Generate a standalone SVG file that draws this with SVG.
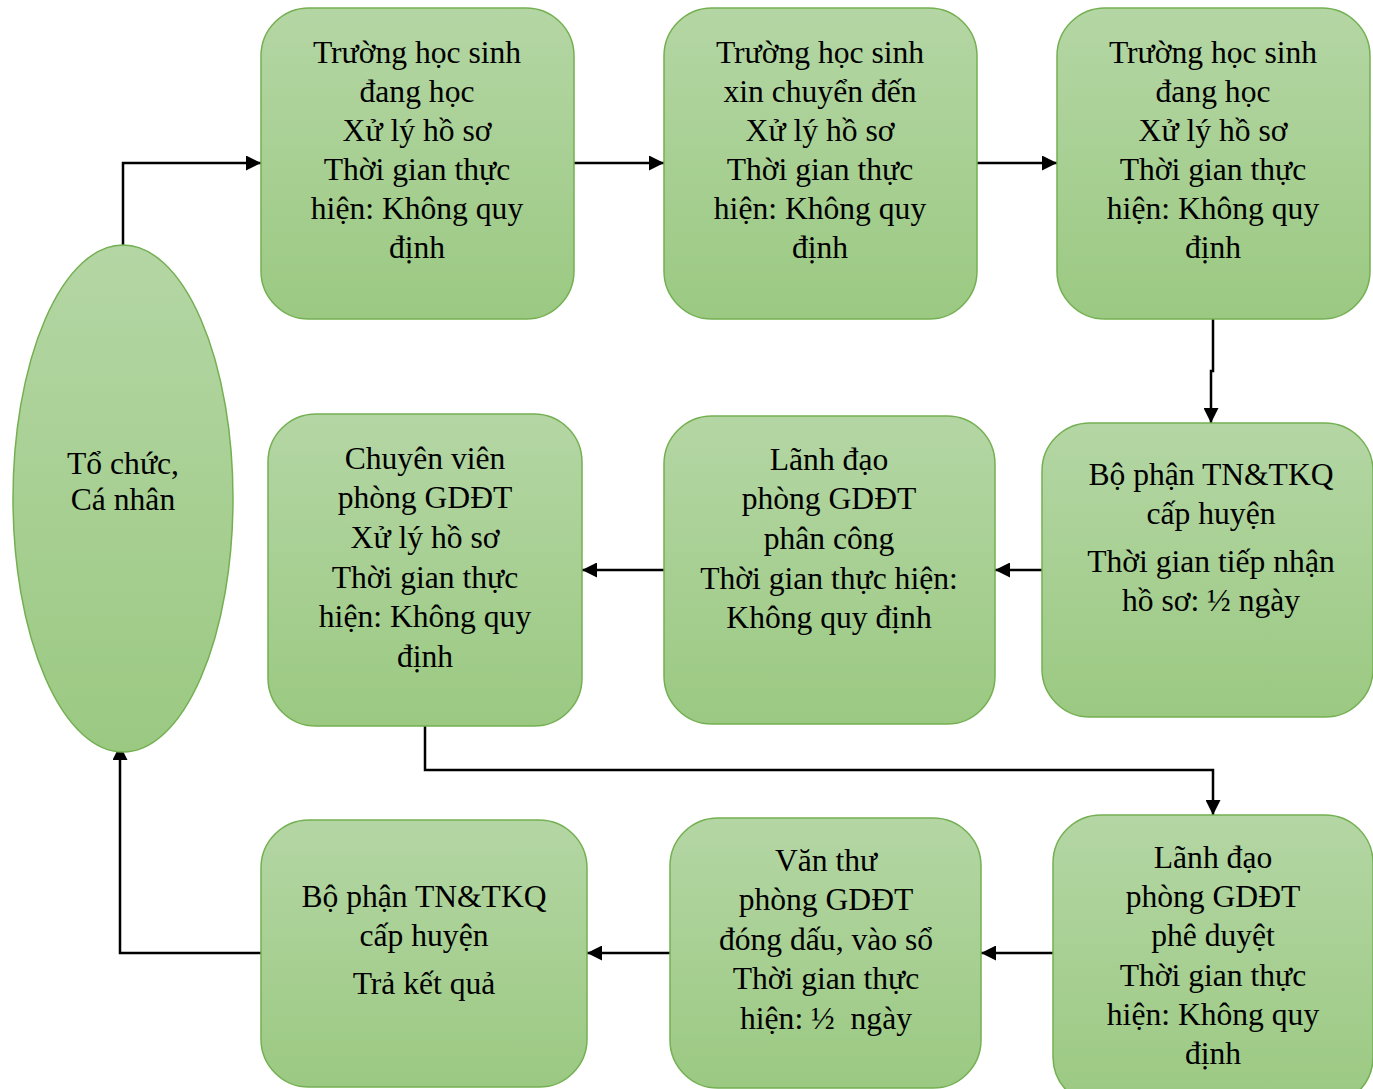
<svg xmlns="http://www.w3.org/2000/svg" width="1373" height="1089" viewBox="0 0 1373 1089">
<style>
.box{fill:url(#g);stroke:#74b052;stroke-width:1.5}
.t{font-family:"Liberation Serif","Times New Roman",serif;font-size:31.6px;fill:#000;text-anchor:middle}
.c{fill:none;stroke:#000;stroke-width:2.5;marker-end:url(#a)}
</style>
<defs>
<linearGradient id="g" x1="0" y1="0" x2="0" y2="1">
<stop offset="0" stop-color="#b4d6a4"/>
<stop offset="1" stop-color="#9bc982"/>
</linearGradient>
<marker id="a" viewBox="0 0 10 10" refX="10" refY="5" markerWidth="15" markerHeight="15" markerUnits="userSpaceOnUse" orient="auto">
<path d="M0,0 L10,5 L0,10 z" fill="#000"/>
</marker>
</defs>
<rect width="1373" height="1089" fill="#fff"/>
<g id="connectors">
<path class="c" d="M123,245 V163 H261"/>
<path class="c" d="M574,163 H664"/>
<path class="c" d="M977,163 H1057"/>
<path class="c" d="M1213,319 V371 H1211 V423"/>
<path class="c" d="M1042,570 H995"/>
<path class="c" d="M664,570 H582"/>
<path class="c" d="M425,726 V770 H1213 V815"/>
<path class="c" d="M1053,953 H981"/>
<path class="c" d="M670,953 H587"/>
<path class="c" d="M261,953 H120 V745"/>
</g>
<g id="n0">
<ellipse class="box" cx="123" cy="498.5" rx="110" ry="253.5"/>
<text class="t" x="123" y="474">Tổ chức,</text>
<text class="t" x="123" y="510">Cá nhân</text>
</g>
<g id="n1">
<rect class="box" x="261" y="8" width="313" height="311" rx="48"/>
<text class="t" x="417" y="63">Trường học sinh</text>
<text class="t" x="417" y="102">đang học</text>
<text class="t" x="417" y="141">Xử lý hồ sơ</text>
<text class="t" x="417" y="180">Thời gian thực</text>
<text class="t" x="417" y="219">hiện: Không quy</text>
<text class="t" x="417" y="258">định</text>
</g>
<g id="n2">
<rect class="box" x="664" y="8" width="313" height="311" rx="48"/>
<text class="t" x="820" y="63">Trường học sinh</text>
<text class="t" x="820" y="102">xin chuyển đến</text>
<text class="t" x="820" y="141">Xử lý hồ sơ</text>
<text class="t" x="820" y="180">Thời gian thực</text>
<text class="t" x="820" y="219">hiện: Không quy</text>
<text class="t" x="820" y="258">định</text>
</g>
<g id="n3">
<rect class="box" x="1057" y="8" width="313" height="311" rx="48"/>
<text class="t" x="1213" y="63">Trường học sinh</text>
<text class="t" x="1213" y="102">đang học</text>
<text class="t" x="1213" y="141">Xử lý hồ sơ</text>
<text class="t" x="1213" y="180">Thời gian thực</text>
<text class="t" x="1213" y="219">hiện: Không quy</text>
<text class="t" x="1213" y="258">định</text>
</g>
<g id="n4">
<rect class="box" x="268" y="414" width="314" height="312" rx="48"/>
<text class="t" x="425" y="469">Chuyên viên</text>
<text class="t" x="425" y="508">phòng GDĐT</text>
<text class="t" x="425" y="548">Xử lý hồ sơ</text>
<text class="t" x="425" y="588">Thời gian thực</text>
<text class="t" x="425" y="627">hiện: Không quy</text>
<text class="t" x="425" y="667">định</text>
</g>
<g id="n5">
<rect class="box" x="664" y="416" width="331" height="308" rx="48"/>
<text class="t" x="829" y="470">Lãnh đạo</text>
<text class="t" x="829" y="509">phòng GDĐT</text>
<text class="t" x="829" y="549">phân công</text>
<text class="t" x="829" y="589">Thời gian thực hiện:</text>
<text class="t" x="829" y="628">Không quy định</text>
</g>
<g id="n6">
<rect class="box" x="1042" y="423" width="331" height="294" rx="48"/>
<text class="t" x="1211" y="485">Bộ phận TN&amp;TKQ</text>
<text class="t" x="1211" y="524">cấp huyện</text>
<text class="t" x="1211" y="572">Thời gian tiếp nhận</text>
<text class="t" x="1211" y="611">hồ sơ: ½ ngày</text>
</g>
<g id="n7">
<rect class="box" x="261" y="820" width="326" height="267" rx="48"/>
<text class="t" x="424" y="907">Bộ phận TN&amp;TKQ</text>
<text class="t" x="424" y="946">cấp huyện</text>
<text class="t" x="424" y="994">Trả kết quả</text>
</g>
<g id="n8">
<rect class="box" x="670" y="818" width="311" height="270" rx="48"/>
<text class="t" x="826" y="871">Văn thư</text>
<text class="t" x="826" y="910">phòng GDĐT</text>
<text class="t" x="826" y="950">đóng dấu, vào sổ</text>
<text class="t" x="826" y="989">Thời gian thực</text>
<text class="t" x="826" y="1029" xml:space="preserve" style="white-space:pre">hiện: ½  ngày</text>
</g>
<g id="n9">
<rect class="box" x="1053" y="815" width="320" height="290" rx="48"/>
<text class="t" x="1213" y="868">Lãnh đạo</text>
<text class="t" x="1213" y="907">phòng GDĐT</text>
<text class="t" x="1213" y="946">phê duyệt</text>
<text class="t" x="1213" y="986">Thời gian thực</text>
<text class="t" x="1213" y="1025">hiện: Không quy</text>
<text class="t" x="1213" y="1064">định</text>
</g>
</svg>
